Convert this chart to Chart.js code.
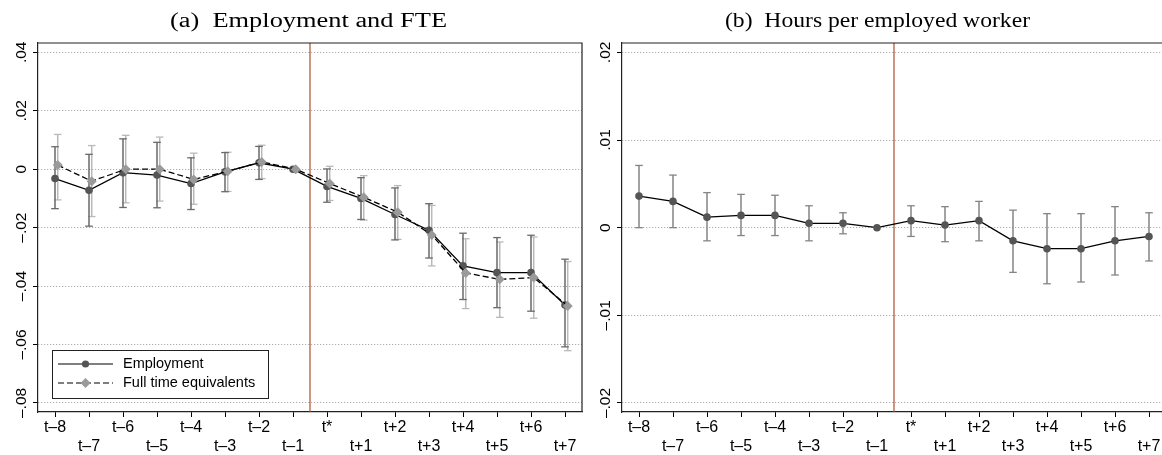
<!DOCTYPE html>
<html><head><meta charset="utf-8">
<script src="https://cdn.jsdelivr.net/npm/chart.js@4/dist/chart.umd.min.js"></script>
<style>
html,body{margin:0;padding:0;background:#fff;overflow:hidden;width:1162px;height:455px;}
#wrapA{position:absolute;left:0;top:0;width:600px;height:455px;}
#wrapB{position:absolute;left:584px;top:0;width:600px;height:455px;}
</style></head><body>
<div id="wrapA"><canvas id="cA" width="600" height="455"></canvas></div>
<div id="wrapB"><canvas id="cB" width="600" height="455"></canvas></div>
<script>
// ---- data ----
const periods = ['t–8','t–7','t–6','t–5','t–4','t–3','t–2','t–1','t*','t+1','t+2','t+3','t+4','t+5','t+6','t+7'];

const empCoef = [-0.0032,-0.0072,-0.0012,-0.0020,-0.0049,-0.0009,0.0022,0,-0.0059,-0.0100,-0.0155,-0.0209,-0.0331,-0.0354,-0.0354,-0.0465];
const empLo   = [-0.0135,-0.0195,-0.0131,-0.0132,-0.0138,-0.0077,-0.0035,null,-0.0113,-0.0172,-0.0242,-0.0304,-0.0446,-0.0474,-0.0486,-0.0608];
const empHi   = [0.0077,0.0051,0.0104,0.0092,0.0039,0.0057,0.0078,null,0.0001,-0.0029,-0.0064,-0.0118,-0.0219,-0.0234,-0.0226,-0.0308];

const fteCoef = [0.0014,-0.0041,0.0000,0.0000,-0.0035,-0.0007,0.0025,0,-0.0049,-0.0096,-0.0147,-0.0225,-0.0355,-0.0377,-0.0371,-0.0468];
const fteLo   = [-0.0105,-0.0162,-0.0115,-0.0109,-0.0120,-0.0076,-0.0032,null,-0.0107,-0.0174,-0.0240,-0.0331,-0.0477,-0.0507,-0.0510,-0.0621];
const fteHi   = [0.0119,0.0081,0.0116,0.0110,0.0055,0.0058,0.0082,null,0.0010,-0.0022,-0.0056,-0.0124,-0.0238,-0.0249,-0.0232,-0.0316];

const hoursCoef = [0.0036,0.0030,0.0012,0.0014,0.0014,0.0005,0.0005,0,0.0008,0.0003,0.0008,-0.0015,-0.0024,-0.0024,-0.0015,-0.0010];
const hoursLo   = [0.0000,0.0000,-0.0015,-0.0009,-0.0009,-0.0015,-0.0007,null,-0.0010,-0.0016,-0.0015,-0.0051,-0.0064,-0.0062,-0.0054,-0.0038];
const hoursHi   = [0.0071,0.0060,0.0040,0.0038,0.0037,0.0025,0.0017,null,0.0025,0.0024,0.0030,0.0020,0.0016,0.0016,0.0024,0.0017];

const yTicksA = [-0.08,-0.06,-0.04,-0.02,0,0.02,0.04];
const yTicksB = [-0.02,-0.01,0,0.01,0.02];
const eventLine = 7.5;   // between t–1 and t*

// ---- helpers ----
const fteShift = 0.08;
const rangeA = {min:-0.0831, max:0.0432};
const rangeB = {min:-0.02103, max:0.02107};
const SANS = '"Liberation Sans", Arial, sans-serif';

function pts(vals, shift){ return vals.map((v,i)=>({x:i+shift, y:v})); }
function ciPts(lo, hi, shift){
  const out=[];
  lo.forEach((l,i)=>{ if(l==null) return; out.push({x:i+shift,y:l},{x:i+shift,y:hi[i]},{x:i+shift,y:null}); });
  return out;
}
function fmt(v){ if(Math.abs(v)<1e-9) return '0'; return (v<0?'–':'')+Math.abs(v).toFixed(2).replace(/^0/,''); }

function ciDataset(lo, hi, shift, color){
  return {type:'line', data:ciPts(lo,hi,shift), borderColor:color, borderWidth:1.5, spanGaps:false,
    pointStyle:'line', pointRadius:3.8, pointBorderColor:color, pointBorderWidth:1.3, pointBackgroundColor:color,
    order:10};
}
function vlineDataset(range){
  return {type:'line', data:[{x:eventLine,y:range.min},{x:eventLine,y:range.max}], borderColor:'#ab4f2c',
    borderWidth:1.2, pointRadius:0, order:20};
}

const titlePlugin = {
  id:'panelTitle',
  afterDraw(chart, args, o){
    const ctx=chart.ctx; ctx.save();
    ctx.font=o.font; ctx.fillStyle='#000'; ctx.textAlign='center'; ctx.textBaseline='alphabetic';
    const w=ctx.measureText(o.text).width; const sx=o.width? o.width/w : 1;
    ctx.translate(o.cx,o.y); ctx.scale(sx,1); ctx.fillText(o.text,0,0); ctx.restore();
  }
};
const framePlugin = {
  id:'frame',
  afterDraw(chart){
    const {ctx, chartArea:a}=chart; ctx.save(); ctx.strokeStyle='#222'; ctx.lineWidth=1.2;
    ctx.beginPath(); ctx.moveTo(a.left,a.top); ctx.lineTo(a.right,a.top); ctx.lineTo(a.right,a.bottom); ctx.stroke(); ctx.restore();
  }
};
const boxLegend = {
  id:'boxLegend',
  afterDraw(chart, args, o){
    if(!o.items) return;
    const ctx=chart.ctx; ctx.save();
    ctx.fillStyle='#fff'; ctx.fillRect(o.x,o.y,o.w,o.h);
    ctx.strokeStyle='#222'; ctx.lineWidth=1; ctx.strokeRect(o.x+0.5,o.y+0.5,o.w,o.h);
    o.items.forEach((it,k)=>{
      const y=o.y+o.rowY[k];
      ctx.strokeStyle='#000'; ctx.lineWidth=1.2; ctx.setLineDash(it.dash||[]);
      ctx.beginPath(); ctx.moveTo(o.x+o.lineX0,y); ctx.lineTo(o.x+o.lineX1,y); ctx.stroke(); ctx.setLineDash([]);
      const mx=o.x+(o.lineX0+o.lineX1)/2;
      ctx.fillStyle=it.marker;
      ctx.beginPath();
      if(it.shape==='circle'){ ctx.arc(mx,y,3.6,0,Math.PI*2); }
      else { const r=5; ctx.moveTo(mx-r,y); ctx.lineTo(mx,y-r); ctx.lineTo(mx+r,y); ctx.lineTo(mx,y+r); ctx.closePath(); }
      ctx.fill();
      ctx.fillStyle='#000'; ctx.font='14.5px '+SANS; ctx.textAlign='left'; ctx.textBaseline='middle';
      ctx.fillText(it.text,o.x+o.textX,y);
    });
    ctx.restore();
  }
};

function makeOptions(range, yTicks, title, legend){
  return {
    responsive:false, animation:false, events:[],
    layout:{padding:{left:0,right:18,top:43,bottom:0}},
    plugins:{legend:{display:false}, tooltip:{enabled:false}, panelTitle:title, boxLegend:legend||{}},
    scales:{
      x:{type:'linear', min:-0.5, max:15.5,
        afterBuildTicks:s=>{ s.ticks=periods.map((p,i)=>({value:i})); },
        afterFit:s=>{ s.height=43; },
        grid:{drawOnChartArea:false, drawTicks:true, tickLength:5, tickColor:'#000', color:'#000'},
        border:{color:'#222', width:1.2},
        ticks:{autoSkip:false, maxRotation:0, minRotation:0, padding:1.5, color:'#000',
          font:{family:SANS, size:16, lineHeight:1.17},
          callback:(v)=>{ const i=Math.round(v); const l=periods[i]; return i%2===0? l : ['',l]; }}
      },
      y:{type:'linear', min:range.min, max:range.max,
        afterBuildTicks:s=>{ s.ticks=yTicks.map(v=>({value:v})); },
        afterFit:s=>{ s.width=38; },
        grid:{color:'#9a9a9a', lineWidth:1, drawTicks:true, tickLength:5, tickColor:'#000'},
        border:{color:'#222', width:1.2, dash:[1,2]},
        ticks:{minRotation:90, maxRotation:90, crossAlign:'center', padding:-4, color:'#000',
          font:{family:SANS, size:15.5}, callback:v=>fmt(v)}
      }
    }
  };
}

new Chart(document.getElementById('cA'), {
  type:'line',
  data:{datasets:[
    vlineDataset(rangeA),
    ciDataset(empLo, empHi, 0, '#6a6a6a'),
    ciDataset(fteLo, fteHi, fteShift, '#b9b9b9'),
    {label:'Employment', data:pts(empCoef,0), borderColor:'#000', borderWidth:1.3,
      pointStyle:'circle', pointRadius:3.8, pointBackgroundColor:'#555', pointBorderWidth:0, order:2},
    {label:'Full time equivalents', data:pts(fteCoef,fteShift), borderColor:'#000', borderWidth:1.3, borderDash:[6,3],
      pointStyle:'rectRot', pointRadius:5, pointBackgroundColor:'#9a9a9a', pointBorderWidth:0, order:1}
  ]},
  options:makeOptions(rangeA, yTicksA,
    {text:'(a)  Employment and FTE', font:'20.5px "Liberation Serif", "Times New Roman", serif', cx:308.5, y:26.7, width:277},
    {x:52, y:350, w:216, h:48, lineX0:6, lineX1:61, textX:71, rowY:[14,33],
     items:[{text:'Employment', marker:'#555', shape:'circle'},
            {text:'Full time equivalents', marker:'#9a9a9a', shape:'diamond', dash:[6,3]}]}),
  plugins:[titlePlugin, framePlugin, boxLegend]
});

new Chart(document.getElementById('cB'), {
  type:'line',
  data:{datasets:[
    vlineDataset(rangeB),
    ciDataset(hoursLo, hoursHi, 0, '#858585'),
    {label:'Hours per employed worker', data:pts(hoursCoef,0), borderColor:'#000', borderWidth:1.3,
      pointStyle:'circle', pointRadius:3.8, pointBackgroundColor:'#555', pointBorderWidth:0, order:1}
  ]},
  options:makeOptions(rangeB, yTicksB,
    {text:'(b)  Hours per employed worker', font:'20.5px "Liberation Serif", "Times New Roman", serif', cx:293.5, y:26.7, width:305}),
  plugins:[titlePlugin, framePlugin]
});
</script>
</body></html>
